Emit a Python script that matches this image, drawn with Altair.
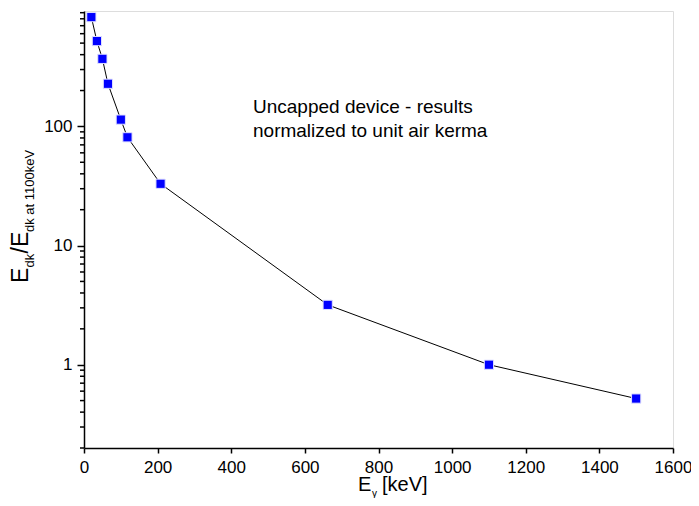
import altair as alt
import pandas as pd

energy_kev = [20, 35, 50, 65, 100, 118, 208, 662, 1100, 1500]
ratio = [826, 520, 369, 228, 114, 81, 33, 3.18, 1.0, 0.52]

x_ticks = list(range(0, 1700, 100))
y_major = [1, 10, 100]
y_minor = [0.2, 0.3, 0.4, 0.5, 0.6, 0.7, 0.8, 0.9,
           2, 3, 4, 5, 6, 7, 8, 9,
           20, 30, 40, 50, 60, 70, 80, 90,
           200, 300, 400, 500, 600, 700, 800, 900]

note_lines = ["Uncapped device - results", "normalized to unit air kerma"]

df = pd.DataFrame({"E": energy_kev, "R": ratio})
minor_df = pd.DataFrame({"m": y_minor})

FONT = "Liberation Sans"
W, H = 589, 437

xs = alt.Scale(domain=[0, 1600], nice=False)
ys = alt.Scale(type="log", domain=[0.2, 930], nice=False)

x_axis = alt.Axis(values=x_ticks, format="d",
                  labelExpr="datum.value % 200 == 0 ? datum.label : ''",
                  tickSize=5, labelPadding=6, labelFontSize=17, labelFont=FONT,
                  labelColor="black", domainColor="black", tickColor="black",
                  domainWidth=1.5, tickWidth=1.5, grid=False, title=None, labelFlush=False,
                  labelOverlap=False)
y_axis = alt.Axis(values=y_major, format="~g", tickSize=7, labelPadding=5, labelFontSize=17,
                  labelFont=FONT, labelColor="black", domainColor="black", tickColor="black",
                  domainWidth=1.5, tickWidth=1.5, grid=False, title=None, orient="left")

base = alt.Chart(df)
line = base.mark_line(color="black", strokeWidth=1).encode(
    x=alt.X("E:Q", scale=xs, axis=x_axis),
    y=alt.Y("R:Q", scale=ys, axis=y_axis),
)
minor = alt.Chart(minor_df).mark_rule(color="black", strokeWidth=1.5).encode(
    x=alt.value(-4), x2=alt.value(0),
    y=alt.Y("m:Q", scale=ys),
)
pts = base.mark_square(size=85, color="#0000ff", opacity=1, stroke="#e0e0ff", strokeWidth=1).encode(
    x=alt.X("E:Q", scale=xs),
    y=alt.Y("R:Q", scale=ys),
)

one = pd.DataFrame({"a": [0]})


def txt(t, x, y, size, angle=0):
    return alt.Chart(one).mark_text(text=t, font=FONT, fontSize=size, color="black",
                                    align="left", baseline="alphabetic", angle=angle).encode(
        x=alt.value(x), y=alt.value(y))


note = alt.Chart(one).mark_text(text=note_lines, font=FONT, fontSize=19, color="black",
                                align="left", baseline="alphabetic", lineHeight=24).encode(
    x=alt.value(169), y=alt.value(102))

# x-axis title: E_γ [keV]
xt = [txt("E", 274, 480, 20), txt("γ", 288, 486, 10), txt("[keV]", 298, 480, 20)]
# y-axis title: E_dk/E_dk at 1100keV (rotated)
yt = [txt("E", -56, 272, 23, 270), txt("dk", -50, 256.5, 13, 270),
      txt("/E", -56, 242.5, 23, 270), txt("dk at 1100keV", -50, 221, 13, 270)]

chart = alt.layer(line, minor, pts, note, *xt, *yt).properties(
    width=W, height=H, autosize="none",
    padding={"left": 76, "top": 3, "right": 18, "bottom": 50},
).configure_view(stroke=None).configure(background="white")

chart.save("out.html", embed_options={"renderer": "svg", "actions": False})
